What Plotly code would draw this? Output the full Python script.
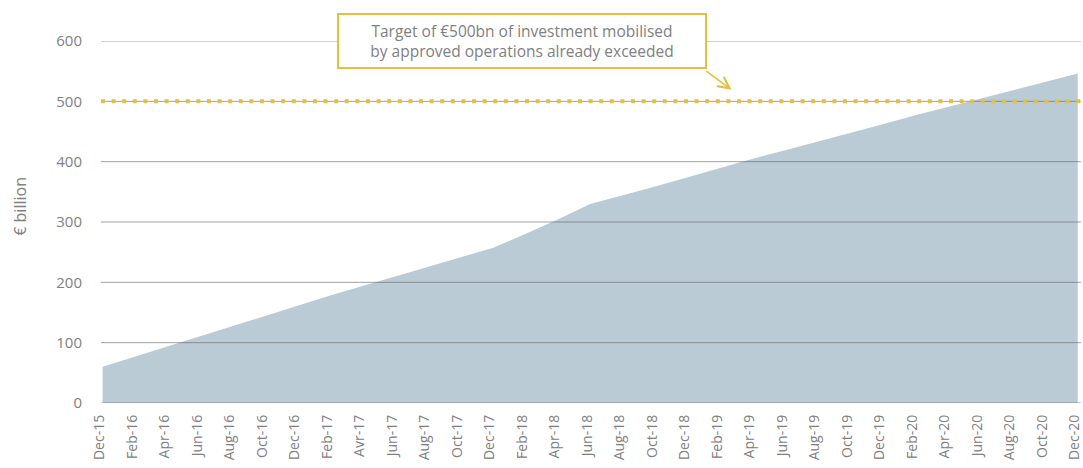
import plotly.graph_objects as go

# Month index from Dec-15 (0) to Dec-20 (60), readings every two months
months = list(range(0, 61, 2))
tick_labels = ["Dec-15", "Feb-16", "Apr-16", "Jun-16", "Aug-16", "Oct-16", "Dec-16",
               "Feb-17", "Avr-17", "Jun-17", "Aug-17", "Oct-17", "Dec-17",
               "Feb-18", "Apr-18", "Jun-18", "Aug-18", "Oct-18", "Dec-18",
               "Feb-19", "Apr-19", "Jun-19", "Aug-19", "Oct-19", "Dec-19",
               "Feb-20", "Apr-20", "Jun-20", "Aug-20", "Oct-20", "Dec-20"]
investment = [60, 77, 94, 111, 128, 145, 162,
              178, 194, 210, 225, 241, 257,
              280, 304, 330, 344, 359, 374,
              390, 405, 419, 433, 448, 462,
              477, 491, 505, 519, 533, 546]
target = 500
y_ticks = [0, 100, 200, 300, 400, 500, 600]

GREY_TEXT = "#808080"
YELLOW = "#e4c040"
AREA = "rgb(186,203,214)"
FONT = "Open Sans"

fig = go.Figure()
fig.add_trace(go.Scatter(
    x=months, y=investment, mode="lines", fill="tozeroy",
    fillcolor=AREA, line=dict(color=AREA, width=0), hoverinfo="skip",
    showlegend=False,
))

shapes = []
for v in y_ticks:
    shapes.append(dict(type="line", xref="paper", x0=0, x1=1, yref="y", y0=v, y1=v,
                       line=dict(color="rgba(100,100,100,0.6)", width=1), layer="above"))
shapes.append(dict(type="line", xref="paper", x0=0, x1=1, yref="y",
                   y0=target, y1=target,
                   line=dict(color=YELLOW, width=4, dash="4px,6.6px"), layer="above"))

fig.update_layout(
    width=1083, height=468,
    margin=dict(l=101, r=2, t=41, b=65),
    paper_bgcolor="white", plot_bgcolor="white",
    font=dict(family=FONT, color=GREY_TEXT),
    shapes=shapes,
    xaxis=dict(range=[months[0] - 0.1, months[-1] + 0.2], tickmode="array", tickvals=months,
               ticktext=tick_labels, tickangle=-90, showgrid=False, zeroline=False,
               showline=False, ticks="", tickfont=dict(size=14, color=GREY_TEXT),
               ticklabelstandoff=8, ticklabelshift=-3, automargin=False,
               ticklabeloverflow="allow"),
    yaxis=dict(range=[0, 600], tickmode="array", tickvals=y_ticks, showgrid=False,
               zeroline=False, showline=False, ticks="",
               tickfont=dict(size=15, color=GREY_TEXT), ticklabelstandoff=18,
               automargin=False),
    annotations=[
        dict(x=-0.083, y=0.544, xref="paper", yref="paper", text="€ billion",
             textangle=-90, showarrow=False, xanchor="center", yanchor="middle",
             font=dict(size=16, color=GREY_TEXT, family=FONT)),
        dict(x=25.8, y=600, xref="x", yref="y",
             text="Target of €500bn of investment mobilised<br>by approved operations already exceeded",
             showarrow=False, font=dict(size=15.5, color=GREY_TEXT, family=FONT),
             bgcolor="white", bordercolor=YELLOW, borderwidth=2, borderpad=5,
             width=356, align="center"),
        dict(x=38.7, y=519, xref="x", yref="y", ax=37.05, ay=552, axref="x", ayref="y",
             text="", showarrow=True, arrowhead=5, arrowsize=1.4, arrowwidth=1.6,
             arrowcolor=YELLOW, standoff=0, startstandoff=0),
    ],
)

# Remove the page's default body margin so the figure fills the window exactly
fig.write_html("out.html", config={"displayModeBar": False},
               post_script="document.body.style.margin='0';document.body.style.overflow='hidden';")
